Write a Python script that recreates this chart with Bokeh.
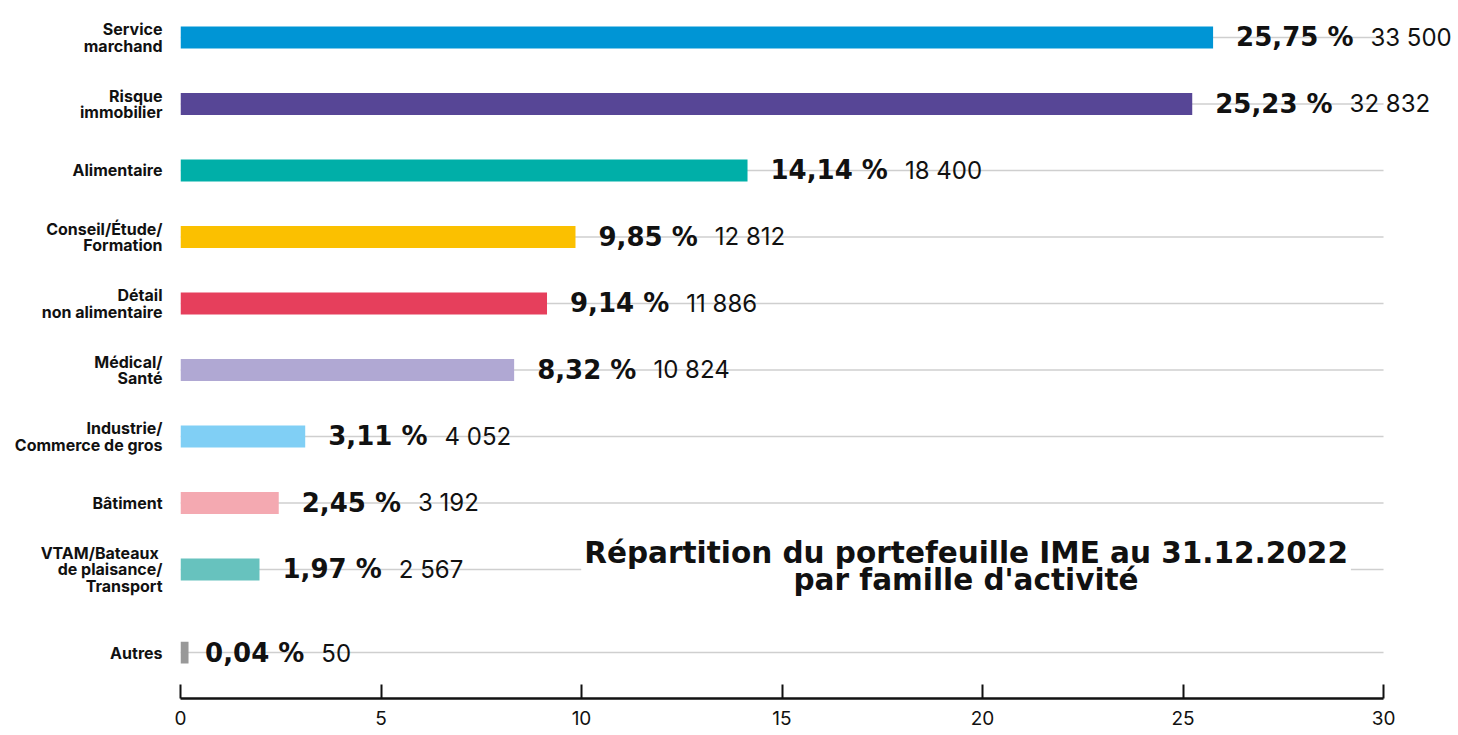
from bokeh.plotting import figure
from bokeh.models import Range1d, FixedTicker, Label, ColumnDataSource
from bokeh.embed import file_html
from bokeh.resources import INLINE
from bokeh.core.properties import value

# ---- data ----
categories = [
    "Service\nmarchand",
    "Risque\nimmobilier",
    "Alimentaire",
    "Conseil/Étude/\nFormation",
    "Détail\nnon alimentaire",
    "Médical/\nSanté",
    "Industrie/\nCommerce de gros",
    "Bâtiment",
    "VTAM/Bateaux \nde plaisance/\nTransport",
    "Autres",
]
shares = [25.75, 25.23, 14.14, 9.85, 9.14, 8.32, 3.11, 2.45, 1.97, 0.04]
counts = [33500, 32832, 18400, 12812, 11886, 10824, 4052, 3192, 2567, 50]
colors = ["#0095D5", "#574696", "#00AFA8", "#FBC000", "#E63F5C",
          "#B0A8D3", "#80CFF5", "#F4A9B1", "#67C2BE", "#999999"]
x_ticks = [0, 5, 10, 15, 20, 25, 30]
title_text = "Répartition du portefeuille IME au 31.12.2022\npar famille d'activité"

# ---- styles / layout ----
LABEL_FONT = "Inter"
HEAVY_FONT = "DejaVu Sans"
PCT_SIZE = 26
MIN_VISIBLE_BAR = 0.2  # tiny shares are drawn with a minimal visible width

# row positions: one unit per row, a wider gap before the last row
ypos = [float(i) for i in range(len(categories) - 1)] + [len(categories) - 0.75]

pct_labels = [f"{v:.2f}".replace(".", ",") + " %" for v in shares]
cnt_labels = [f"{c:,}".replace(",", " ") for c in counts]

# approximate advance widths (em) of DejaVu Sans Bold
adv = {",": 0.38, " ": 0.348, "%": 1.002}
def pct_width(s):
    return sum(adv.get(ch, 0.696) for ch in s) * PCT_SIZE

pct_off = [23 for _ in pct_labels]
cnt_off = [23 + pct_width(s) + 17 for s in pct_labels]

src = ColumnDataSource(dict(
    y=ypos, share=shares, bar=[max(v, MIN_VISIBLE_BAR) for v in shares],
    color=colors, pct=pct_labels, cnt=cnt_labels,
    pct_off=pct_off, cnt_off=cnt_off,
    x0=[x_ticks[0]] * len(ypos), x1=[x_ticks[-1]] * len(ypos),
))

p = figure(width=1456, height=734, output_backend="svg", toolbar_location=None,
           x_range=Range1d(0, 31.82), y_range=Range1d(9.94, -0.556),
           min_border_left=180, min_border_right=0, min_border_top=0,
           min_border_bottom=36)
p.outline_line_color = None
p.xgrid.visible = False
p.ygrid.visible = False

# grid lines at each row
p.segment(x0="x0", x1="x1", y0="y", y1="y", source=src,
          line_color="#cfcfcf", line_width=1.5)

# bars
p.hbar(y="y", left=0, right="bar", height=0.33, source=src,
       fill_color="color", line_color=None)

# value labels
p.text(x="share", y="y", text="pct", x_offset="pct_off", source=src,
       text_font=value(HEAVY_FONT), text_font_style="bold",
       text_font_size=f"{PCT_SIZE}px",
       text_baseline="alphabetic", text_align="left", text_color="#111111")
p.text(x="share", y="y", text="cnt", x_offset="cnt_off", source=src,
       text_font=value(LABEL_FONT), text_font_size="24px",
       text_baseline="alphabetic", text_align="left", text_color="#111111")

# x axis
xa = p.xaxis[0]
xa.ticker = FixedTicker(ticks=x_ticks)
xa.bounds = (x_ticks[0], x_ticks[-1])
xa.axis_line_width = 2.5
xa.axis_line_color = "#111111"
xa.major_tick_in = 14
xa.major_tick_out = 0
xa.major_tick_line_width = 2
xa.major_tick_line_color = "#111111"
xa.minor_tick_line_color = None
xa.major_label_text_font = LABEL_FONT
xa.major_label_text_font_size = "19px"
xa.major_label_text_color = "#111111"
xa.major_label_standoff = 12

# y axis (category labels)
ya = p.yaxis[0]
ya.ticker = FixedTicker(ticks=ypos)
ya.major_label_overrides = {y: c for y, c in zip(ypos, categories)}
ya.axis_line_color = None
ya.major_tick_line_color = None
ya.minor_tick_line_color = None
ya.major_label_standoff = 12
ya.major_label_text_font = LABEL_FONT
ya.major_label_text_font_style = "bold"
ya.major_label_text_font_size = "16px"
ya.major_label_text_line_height = 0.82
ya.major_label_text_color = "#111111"

# title inside plot
title = Label(x=19.59, y=7.955, text=title_text, text_align="center",
              text_baseline="middle", text_font=HEAVY_FONT, text_font_style="bold",
              text_font_size="29.5px", text_line_height=0.82, text_color="#111111",
              background_fill_color="white", padding=3)
p.add_layout(title)

open("out.html", "w").write(file_html(p, INLINE))
